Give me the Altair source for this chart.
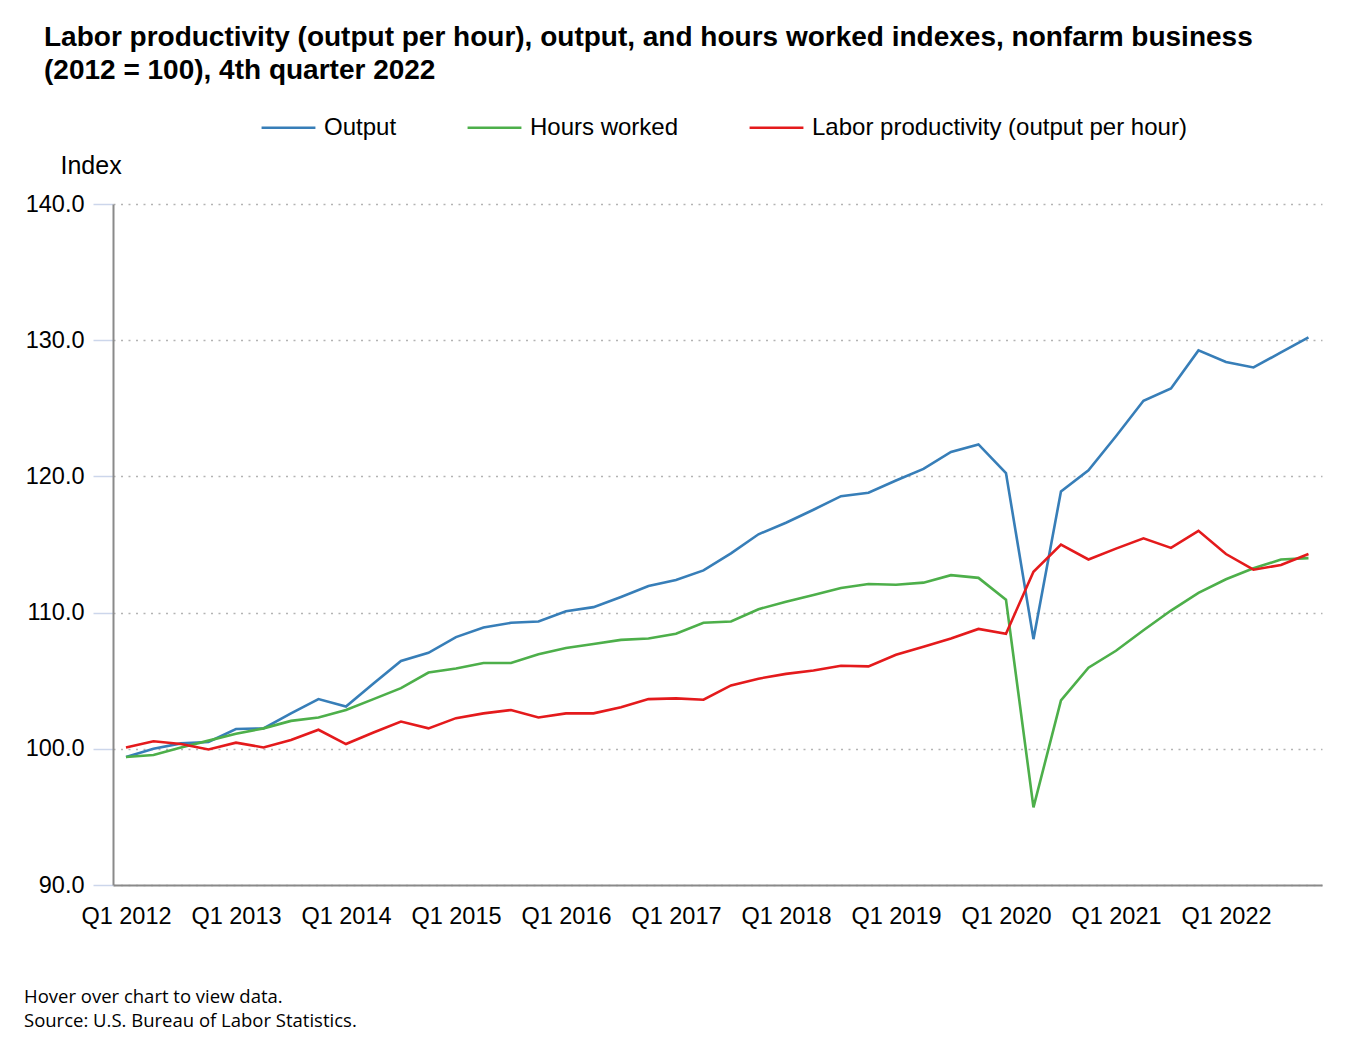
import altair as alt
import pandas as pd

# Quarterly index values, nonfarm business sector (2012 = 100), Q1 2012 .. Q4 2022
years = list(range(2012, 2023))
quarter_numbers = [1, 2, 3, 4]

output = [
    99.4, 100.0, 100.4, 100.5, 101.45, 101.5, 102.6, 103.65,
    103.1, 104.8, 106.45, 107.05, 108.2, 108.9, 109.25, 109.35,
    110.1, 110.4, 111.15, 111.95, 112.4, 113.1, 114.35, 115.75,
    116.6, 117.55, 118.55, 118.8, 119.7, 120.55, 121.8, 122.35,
    120.25, 108.05, 118.9, 120.45, 122.95, 125.55, 126.45, 129.25,
    128.4, 128.0, 129.1, 130.2,
]
hours_worked = [
    99.4, 99.55, 100.1, 100.6, 101.1, 101.5, 102.05, 102.3,
    102.85, 103.65, 104.45, 105.6, 105.9, 106.3, 106.3, 106.95,
    107.4, 107.7, 108.0, 108.1, 108.45, 109.25, 109.35, 110.25,
    110.8, 111.3, 111.8, 112.1, 112.05, 112.2, 112.75, 112.55,
    110.95, 95.7, 103.55, 105.95, 107.2, 108.7, 110.15, 111.45,
    112.45, 113.25, 113.9, 114.0,
]
productivity = [
    100.1, 100.55, 100.35, 99.95, 100.45, 100.1, 100.65, 101.4,
    100.35, 101.2, 102.0, 101.5, 102.25, 102.6, 102.85, 102.3,
    102.6, 102.6, 103.05, 103.65, 103.7, 103.6, 104.65, 105.15,
    105.5, 105.75, 106.1, 106.05, 106.9, 107.5, 108.1, 108.8,
    108.45, 113.0, 115.0, 113.9, 114.7, 115.45, 114.75, 116.0,
    114.3, 113.15, 113.5, 114.3,
]

series_names = ["Output", "Hours worked", "Labor productivity (output per hour)"]
series_colors = ["#377eb8", "#4daf4a", "#e41a1c"]
series_values = [output, hours_worked, productivity]

y_ticks = [90, 100, 110, 120, 130, 140]
x_label_years = years

title_lines = [
    "Labor productivity (output per hour), output, and hours worked indexes, nonfarm business",
    "(2012 = 100), 4th quarter 2022",
]
footer_lines = [
    "Hover over chart to view data.",
    "Source: U.S. Bureau of Labor Statistics.",
]

FONT = "Liberation Sans"

# Long table: one row per series and quarter, with a fractional-year position
periods = [(y, q) for y in years for q in quarter_numbers]
rows = []
for name, vals in zip(series_names, series_values):
    for (y, q), v in zip(periods, vals):
        rows.append({
            "series": name,
            "quarter": f"Q{q} {y}",
            "t": y + (q - 1) / 4,
            "value": v,
        })
df = pd.DataFrame(rows)

lines = alt.Chart(df).mark_line(strokeWidth=2.6).encode(
    x=alt.X(
        "t:Q",
        scale=alt.Scale(domain=[2011.882, 2022.873], nice=False, zero=False),
        axis=alt.Axis(
            values=x_label_years,
            labelExpr="'Q1 ' + datum.value",
            ticks=False,
            grid=False,
            domainColor="#8a8a8a",
            domainWidth=2,
            labelFont=FONT,
            labelFontSize=23.5,
            labelColor="#000000",
            labelPadding=19,
            labelFlush=False,
            labelOverlap=False,
            title=None,
        ),
    ),
    y=alt.Y(
        "value:Q",
        scale=alt.Scale(domain=[90, 140], nice=False, zero=False),
        axis=alt.Axis(
            values=y_ticks,
            format=".1f",
            grid=True,
            gridColor="#b3b3b3",
            gridDash=[2, 5.5],
            gridWidth=1.5,
            tickColor="#ccd6eb",
            tickSize=20,
            tickWidth=1.5,
            domainColor="#8a8a8a",
            domainWidth=2,
            labelFont=FONT,
            labelFontSize=23.5,
            labelColor="#000000",
            labelPadding=9,
            title="Index",
            titleFont=FONT,
            titleFontSize=25,
            titleFontWeight="normal",
            titleColor="#000000",
            titleAngle=0,
            titleAlign="left",
            titleBaseline="middle",
            titleX=-53,
            titleY=-39,
        ),
    ),
    color=alt.Color(
        "series:N",
        sort=series_names,
        scale=alt.Scale(domain=series_names, range=series_colors),
        legend=alt.Legend(
            title=None,
            orient="none",
            legendX=147,
            legendY=-105,
            direction="horizontal",
            symbolType="stroke",
            symbolSize=2900,
            symbolStrokeWidth=2.6,
            labelFont=FONT,
            labelFontSize=24,
            labelColor="#000000",
            labelLimit=0,
            labelOffset=7,
            columnPadding=65,
            padding=0,
        ),
    ),
    order=alt.Order("t:Q"),
)

footer = alt.Chart(pd.DataFrame({"k": [0]})).mark_text(
    text=footer_lines,
    align="left",
    baseline="top",
    font="Open Sans",
    fontSize=18.5,
    lineHeight=24,
    color="#000000",
).encode(x=alt.value(-89), y=alt.value(784))

chart = alt.layer(lines, footer).properties(
    width=1209,
    height=681,
    padding={"left": 113, "top": 204, "right": 26, "bottom": 159},
    autosize=alt.AutoSizeParams(type="none"),
    title=alt.Title(
        text=title_lines,
        anchor="start",
        frame="group",
        font=FONT,
        fontSize=28,
        fontWeight="bold",
        color="#000000",
        lineHeight=33,
        dx=-69,
        dy=-10,
    ),
).configure_view(stroke=None)

chart.save("out.html", embed_options={"renderer": "svg", "actions": False})
